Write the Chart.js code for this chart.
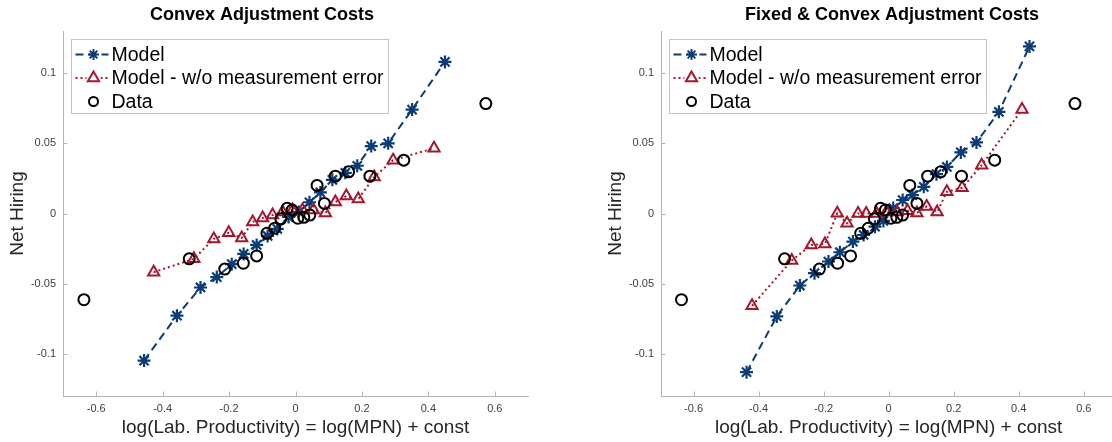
<!DOCTYPE html>
<html>
<head>
<meta charset="utf-8">
<script src="https://cdn.jsdelivr.net/npm/chart.js@4.4.1/dist/chart.umd.min.js"></script>
<style>
  html, body { margin: 0; padding: 0; background: #fff; overflow: hidden; width: 1112px; height: 442px; }
  .panel { position: absolute; top: 0; }
  #panelL { left: 0; }
  #panelR { left: 598px; }
</style>
</head>
<body>
<div class="panel" id="panelL"><canvas id="chartL" width="560" height="442"></canvas></div>
<div class="panel" id="panelR"><canvas id="chartR" width="527" height="442"></canvas></div>
<script>
// Axis ticks
const xTicks = [-0.6, -0.4, -0.2, 0, 0.2, 0.4, 0.6];
const yTicks = [-0.1, -0.05, 0, 0.05, 0.1];

// Data: binned net hiring vs. log labour productivity (same in both panels)
const dataX = [-0.637, -0.32, -0.213, -0.157, -0.117, -0.086, -0.063, -0.044, -0.025, -0.01, 0.007, 0.025, 0.043, 0.065, 0.087, 0.12, 0.16, 0.224, 0.326, 0.573];
const dataY = [-0.0614, -0.0323, -0.0396, -0.0354, -0.0302, -0.0141, -0.0105, -0.0038, 0.0037, 0.0025, -0.0034, -0.0027, -0.0011, 0.0200, 0.0072, 0.0266, 0.0297, 0.0266, 0.038, 0.0783];

// Convex adjustment costs: model
const convexModelX = [-0.456, -0.357, -0.286, -0.237, -0.192, -0.156, -0.117, -0.084, -0.055, -0.021, 0.010, 0.042, 0.075, 0.111, 0.150, 0.186, 0.228, 0.279, 0.351, 0.450];
const convexModelY = [-0.1048, -0.0728, -0.0527, -0.0453, -0.0361, -0.0288, -0.0224, -0.0160, -0.0110, -0.0025, 0.0010, 0.0080, 0.0150, 0.0240, 0.0290, 0.0340, 0.0480, 0.0500, 0.0740, 0.1080];

// Convex adjustment costs: model without measurement error
const convexNoErrX = [-0.427, -0.306, -0.246, -0.201, -0.162, -0.129, -0.099, -0.069, -0.039, -0.009, 0.021, 0.054, 0.090, 0.120, 0.153, 0.189, 0.237, 0.294, 0.417];
const convexNoErrY = [-0.0418, -0.0323, -0.0181, -0.0138, -0.0174, -0.0060, -0.0032, -0.0011, 0.0011, 0.0025, 0.0025, 0.0025, 0.0004, 0.0082, 0.0124, 0.0103, 0.0260, 0.0380, 0.0465];

// Fixed & convex adjustment costs: model
const fixedModelX = [-0.437, -0.344, -0.273, -0.228, -0.185, -0.150, -0.110, -0.077, -0.042, -0.016, 0.014, 0.043, 0.073, 0.108, 0.147, 0.179, 0.222, 0.270, 0.339, 0.433];
const fixedModelY = [-0.1130, -0.0733, -0.0513, -0.0425, -0.0342, -0.0276, -0.0200, -0.0153, -0.0094, -0.0053, 0.0039, 0.0096, 0.0131, 0.0190, 0.0280, 0.0332, 0.0435, 0.0506, 0.0724, 0.1190];

// Fixed & convex adjustment costs: model without measurement error
const fixedNoErrX = [-0.420, -0.298, -0.238, -0.196, -0.158, -0.128, -0.094, -0.069, -0.037, -0.007, 0.026, 0.058, 0.087, 0.117, 0.149, 0.179, 0.226, 0.286, 0.410];
const fixedNoErrY = [-0.0657, -0.0335, -0.0224, -0.0217, 0.0001, -0.0070, 0.0000, 0.0000, 0.0000, 0.0010, 0.0010, 0.0020, 0.0004, 0.0050, 0.0010, 0.0155, 0.0183, 0.0344, 0.0740];

const FONT = '"Liberation Sans", Arial, Helvetica, sans-serif';
const BLUE = '#0b3c75';
const RED = '#a3182e';
const AXIS = '#b4b4b4';

const pts = (xs, ys) => xs.map((x, i) => ({ x: x, y: ys[i] }));
const fmt = v => String(Math.round(v * 1000) / 1000);

// Marker shapes for the legend samples
function marker(ctx, style, x, y, r, color) {
  ctx.save();
  ctx.strokeStyle = color;
  ctx.lineWidth = 2;
  ctx.setLineDash([]);
  ctx.beginPath();
  if (style === 'star') {
    for (let k = 0; k < 4; k++) {
      const a = k * Math.PI / 4;
      ctx.moveTo(x - Math.cos(a) * r, y - Math.sin(a) * r);
      ctx.lineTo(x + Math.cos(a) * r, y + Math.sin(a) * r);
    }
  } else if (style === 'triangle') {
    let a = 0;
    ctx.moveTo(x + Math.sin(a) * r, y - Math.cos(a) * r);
    for (let k = 0; k < 2; k++) {
      a += 2 * Math.PI / 3;
      ctx.lineTo(x + Math.sin(a) * r, y - Math.cos(a) * r);
    }
    ctx.closePath();
  } else {
    ctx.arc(x, y, r, 0, Math.PI * 2);
  }
  ctx.stroke();
  ctx.restore();
}

// Panel heading, placed at a given horizontal centre
const panelTitle = {
  id: 'panelTitle',
  afterDraw(chart, args, opts) {
    const { ctx } = chart;
    ctx.save();
    ctx.fillStyle = '#000';
    ctx.font = 'bold 18px ' + FONT;
    ctx.textAlign = 'center';
    ctx.textBaseline = 'middle';
    ctx.fillText(opts.text, opts.cx, 15);
    ctx.restore();
  }
};

// Inward tick marks on the left and bottom axes
const innerTicks = {
  id: 'innerTicks',
  afterDatasetsDraw(chart) {
    const { ctx, chartArea: a, scales: { x, y } } = chart;
    ctx.save();
    ctx.strokeStyle = AXIS;
    ctx.lineWidth = 1;
    ctx.beginPath();
    xTicks.forEach(v => {
      const px = Math.round(x.getPixelForValue(v)) + 0.5;
      ctx.moveTo(px, a.bottom);
      ctx.lineTo(px, a.bottom - 4.5);
    });
    yTicks.forEach(v => {
      const py = Math.round(y.getPixelForValue(v)) + 0.5;
      ctx.moveTo(a.left, py);
      ctx.lineTo(a.left + 4.5, py);
    });
    ctx.stroke();
    ctx.restore();
  }
};

// Boxed legend in the upper-left corner with line + marker samples
const boxLegend = {
  id: 'boxLegend',
  afterDraw(chart) {
    const { ctx, chartArea: a } = chart;
    const bx = Math.round(a.left + 7.5) + 0.5, by = Math.round(a.top + 8) + 0.5;
    const bw = 317, bh = 74;
    ctx.save();
    ctx.fillStyle = '#fff';
    ctx.fillRect(bx, by, bw, bh);
    ctx.strokeStyle = '#c4c4c4';
    ctx.lineWidth = 1;
    ctx.strokeRect(bx, by, bw, bh);
    const rows = [15, 38.5, 62];
    const mx = bx + 22;
    chart.data.datasets.forEach((ds, i) => {
      const ry = by + rows[i];
      if (ds.showLine) {
        ctx.save();
        ctx.strokeStyle = ds.borderColor;
        ctx.lineWidth = 2;
        ctx.setLineDash(ds.borderDash);
        ctx.beginPath();
        ctx.moveTo(bx + 4, ry);
        ctx.lineTo(bx + 37, ry);
        ctx.stroke();
        ctx.restore();
      }
      const r = ds.pointStyle === 'star' ? 5.5 : ds.pointStyle === 'triangle' ? 6.5 : 4.5;
      if (ds.pointStyle === 'triangle') {
        ctx.fillStyle = '#fff';
        ctx.fillRect(mx - 7, ry - 7, 14, 12);
      }
      marker(ctx, ds.pointStyle, mx, ry, r, ds.pointBorderColor);
      ctx.fillStyle = '#000';
      ctx.font = '19.5px ' + FONT;
      ctx.textBaseline = 'middle';
      ctx.textAlign = 'left';
      ctx.fillText(ds.label, bx + 40, ry + 1);
    });
    ctx.restore();
  }
};

function buildPanel(canvasId, titleText, titleCx, modelX, modelY, noErrX, noErrY, padRight) {
  return new Chart(document.getElementById(canvasId), {
    type: 'scatter',
    data: {
      datasets: [
        {
          label: 'Model',
          data: pts(modelX, modelY),
          showLine: true,
          borderColor: BLUE,
          borderWidth: 2,
          borderDash: [8, 5],
          pointStyle: 'star',
          pointRadius: 6.5,
          pointBorderWidth: 2.2,
          pointBorderColor: BLUE,
          pointBackgroundColor: 'rgba(0,0,0,0)',
          order: 3
        },
        {
          label: 'Model - w/o measurement error',
          data: pts(noErrX, noErrY),
          showLine: true,
          borderColor: RED,
          borderWidth: 2,
          borderDash: [2, 3],
          pointStyle: 'triangle',
          pointRadius: 6.5,
          pointBorderWidth: 2,
          pointBorderColor: RED,
          pointBackgroundColor: 'rgba(0,0,0,0)',
          order: 2
        },
        {
          label: 'Data',
          data: pts(dataX, dataY),
          showLine: false,
          borderColor: '#000',
          borderDash: [],
          pointStyle: 'circle',
          pointRadius: 5.5,
          pointBorderWidth: 2,
          pointBorderColor: '#000',
          pointBackgroundColor: 'rgba(0,0,0,0)',
          order: 1
        }
      ]
    },
    options: {
      responsive: false,
      animation: false,
      devicePixelRatio: 1,
      layout: { padding: { left: 0, right: padRight, top: 31, bottom: 0 } },
      plugins: {
        legend: { display: false },
        tooltip: { enabled: false },
        title: { display: false },
        panelTitle: { text: titleText, cx: titleCx }
      },
      scales: {
        x: {
          type: 'linear',
          min: -0.7,
          max: 0.7,
          afterBuildTicks: s => { s.ticks = xTicks.map(v => ({ value: v })); },
          afterFit: s => { s.height = 46; },
          grid: { display: false, drawTicks: false },
          border: { display: true, color: AXIS, width: 1 },
          ticks: {
            callback: v => fmt(v),
            color: '#404040',
            font: { family: FONT, size: 11 },
            padding: 6,
            maxRotation: 0,
            autoSkip: false
          },
          title: {
            display: true,
            text: 'log(Lab. Productivity) = log(MPN) + const',
            color: '#262626',
            font: { family: FONT, size: 19 },
            padding: { top: 0, bottom: 2.6 }
          }
        },
        y: {
          type: 'linear',
          min: -0.13,
          max: 0.13,
          afterBuildTicks: s => { s.ticks = yTicks.map(v => ({ value: v })); },
          afterFit: s => { s.width = 63; },
          grid: { display: false, drawTicks: false },
          border: { display: true, color: AXIS, width: 1 },
          ticks: {
            callback: v => fmt(v),
            color: '#404040',
            font: { family: FONT, size: 11 },
            padding: 7,
            autoSkip: false
          },
          title: {
            display: true,
            text: 'Net Hiring',
            color: '#262626',
            font: { family: FONT, size: 19 },
            padding: { top: 6.5, bottom: 0 }
          }
        }
      }
    },
    plugins: [panelTitle, innerTicks, boxLegend]
  });
}

buildPanel('chartL', 'Convex Adjustment Costs', 262, convexModelX, convexModelY, convexNoErrX, convexNoErrY, 32);
buildPanel('chartR', 'Fixed & Convex Adjustment Costs', 294, fixedModelX, fixedModelY, fixedNoErrX, fixedNoErrY, 0);
</script>
</body>
</html>
